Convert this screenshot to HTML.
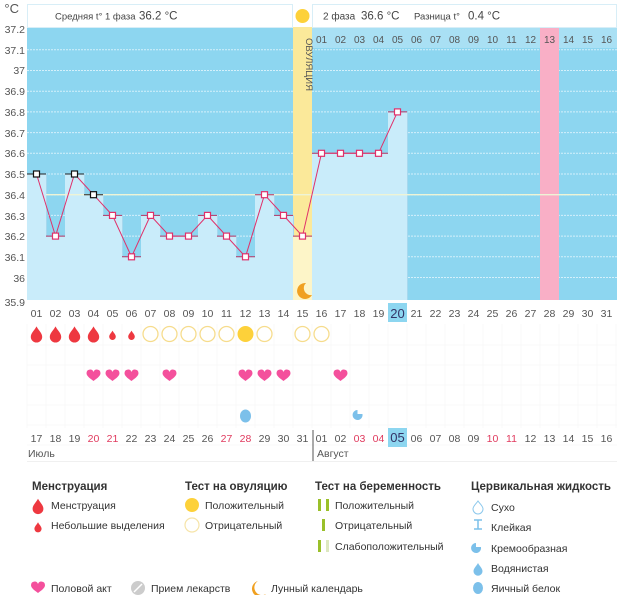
<!DOCTYPE html>
<html><head><meta charset="utf-8"><style>
html,body{margin:0;padding:0;background:#fff;}
svg{display:block;font-family:"Liberation Sans",sans-serif;}
</style></head><body>
<svg id="s" width="626" height="595" viewBox="0 0 626 595" xmlns="http://www.w3.org/2000/svg">
<rect width="626" height="595" fill="#fff"/>
<g id="bg"></g>
<!-- header -->
<rect x="27.5" y="4.5" width="265" height="23" fill="#fff" stroke="#d8eef7"/>
<rect x="312.5" y="4.5" width="304" height="23" fill="#fff" stroke="#d8eef7"/>
<circle cx="302.5" cy="16" r="7" fill="#fdd13a"/>
<text x="55" y="19.5" font-size="9.5" fill="#444">Средняя t° 1 фаза</text>
<text x="139" y="19.5" font-size="11.5" fill="#444">36.2 °C</text>
<text x="323" y="19.5" font-size="10" fill="#444">2 фаза</text>
<text x="361" y="19.5" font-size="11.5" fill="#444">36.6 °C</text>
<text x="414" y="19.5" font-size="9.5" fill="#444">Разница t°</text>
<text x="468" y="19.5" font-size="11.5" fill="#444">0.4 °C</text>
<!-- y axis -->
<g font-size="10.5" fill="#555" text-anchor="end">
<text x="19" y="13" font-size="13">°C</text>
<text x="25" y="33">37.2</text><text x="25" y="54">37.1</text><text x="25" y="74">37</text>
<text x="25" y="95">36.9</text><text x="25" y="116">36.8</text><text x="25" y="137">36.7</text>
<text x="25" y="157">36.6</text><text x="25" y="178">36.5</text><text x="25" y="199">36.4</text>
<text x="25" y="220">36.3</text><text x="25" y="240">36.2</text><text x="25" y="261">36.1</text>
<text x="25" y="282">36</text><text x="25" y="306">35.9</text>
</g>
<text transform="translate(306,38) rotate(90)" font-size="9.5" fill="#555">ОВУЛЯЦИЯ</text>
<g font-size="10" fill="#555" text-anchor="middle">
<text x="321.5" y="43">01</text><text x="340.5" y="43">02</text><text x="359.5" y="43">03</text><text x="378.5" y="43">04</text>
<text x="397.5" y="43">05</text><text x="416.5" y="43">06</text><text x="435.5" y="43">07</text><text x="454.5" y="43">08</text>
<text x="473.5" y="43">09</text><text x="492.5" y="43">10</text><text x="511.5" y="43">11</text><text x="530.5" y="43">12</text>
<text x="549.5" y="43">13</text><text x="568.5" y="43">14</text><text x="587.5" y="43">15</text><text x="606.5" y="43">16</text>
</g>
<g id="fg"></g>
<!-- day labels -->
<rect x="388" y="303" width="19" height="19" fill="#8dd6f0"/>
<g font-size="10.5" fill="#555" text-anchor="middle">
<text x="36.5" y="317">01</text><text x="55.5" y="317">02</text><text x="74.5" y="317">03</text><text x="93.5" y="317">04</text>
<text x="112.5" y="317">05</text><text x="131.5" y="317">06</text><text x="150.5" y="317">07</text><text x="169.5" y="317">08</text>
<text x="188.5" y="317">09</text><text x="207.5" y="317">10</text><text x="226.5" y="317">11</text><text x="245.5" y="317">12</text>
<text x="264.5" y="317">13</text><text x="283.5" y="317">14</text><text x="302.5" y="317">15</text><text x="321.5" y="317">16</text>
<text x="340.5" y="317">17</text><text x="359.5" y="317">18</text><text x="378.5" y="317">19</text><text x="397.5" y="318" font-size="13" fill="#336">20</text>
<text x="416.5" y="317">21</text><text x="435.5" y="317">22</text><text x="454.5" y="317">23</text><text x="473.5" y="317">24</text>
<text x="492.5" y="317">25</text><text x="511.5" y="317">26</text><text x="530.5" y="317">27</text><text x="549.5" y="317">28</text>
<text x="568.5" y="317">29</text><text x="587.5" y="317">30</text><text x="606.5" y="317">31</text>
</g>
<!-- dates -->
<rect x="388" y="428" width="19" height="19" fill="#8dd6f0"/>
<g font-size="10.5" fill="#555" text-anchor="middle">
<text x="36.5" y="442">17</text><text x="55.5" y="442">18</text><text x="74.5" y="442">19</text><text x="93.5" y="442" fill="#e03a5e">20</text>
<text x="112.5" y="442" fill="#e03a5e">21</text><text x="131.5" y="442">22</text><text x="150.5" y="442">23</text><text x="169.5" y="442">24</text>
<text x="188.5" y="442">25</text><text x="207.5" y="442">26</text><text x="226.5" y="442" fill="#e03a5e">27</text><text x="245.5" y="442" fill="#e03a5e">28</text>
<text x="264.5" y="442">29</text><text x="283.5" y="442">30</text><text x="302.5" y="442">31</text><text x="321.5" y="442">01</text>
<text x="340.5" y="442">02</text><text x="359.5" y="442" fill="#e03a5e">03</text><text x="378.5" y="442" fill="#e03a5e">04</text><text x="397.5" y="442" font-size="13" fill="#336">05</text>
<text x="416.5" y="442">06</text><text x="435.5" y="442">07</text><text x="454.5" y="442">08</text><text x="473.5" y="442">09</text>
<text x="492.5" y="442" fill="#e03a5e">10</text><text x="511.5" y="442" fill="#e03a5e">11</text><text x="530.5" y="442">12</text><text x="549.5" y="442">13</text>
<text x="568.5" y="442">14</text><text x="587.5" y="442">15</text><text x="606.5" y="442">16</text>
</g>
<line x1="313" y1="430" x2="313" y2="461" stroke="#555"/>
<text x="28" y="457" font-size="10.5" fill="#555">Июль</text>
<text x="317" y="457" font-size="10.5" fill="#555">Август</text>
<line x1="27" y1="461.5" x2="617" y2="461.5" stroke="#f0f0f0"/>
<!-- legend -->
<g font-size="10.5" fill="#333">
<text x="32" y="490" font-weight="bold" font-size="11.5">Менструация</text>
<text x="51" y="509">Менструация</text>
<text x="51" y="529">Небольшие выделения</text>
<text x="185" y="490" font-weight="bold" font-size="11.5">Тест на овуляцию</text>
<text x="205" y="509">Положительный</text>
<text x="205" y="529">Отрицательный</text>
<text x="315" y="490" font-weight="bold" font-size="11.5">Тест на беременность</text>
<text x="335" y="509">Положительный</text>
<text x="335" y="529">Отрицательный</text>
<text x="335" y="550">Слабоположительный</text>
<text x="471" y="490" font-weight="bold" font-size="11.5">Цервикальная жидкость</text>
<text x="491" y="511">Сухо</text>
<text x="491" y="531">Клейкая</text>
<text x="491" y="552">Кремообразная</text>
<text x="491" y="572">Водянистая</text>
<text x="491" y="592">Яичный белок</text>
<text x="51" y="592">Половой акт</text>
<text x="151" y="592">Прием лекарств</text>
<text x="271" y="592">Лунный календарь</text>
</g>
<script>
var NS="http://www.w3.org/2000/svg";
function el(p,t,a){var e=document.createElementNS(NS,t);for(var k in a)e.setAttribute(k,a[k]);p.appendChild(e);return e;}
var bg=document.getElementById('bg'),fg=document.getElementById('fg');
var T=[36.5,36.2,36.5,36.4,36.3,36.1,36.3,36.2,36.2,36.3,36.2,36.1,36.4,36.3,36.2,36.6,36.6,36.6,36.6,36.8];
function Y(t){return 174+(36.5-t)*207;}
function X0(i){return 27+19*(i-1);}function CX(i){return 36.5+19*(i-1);}
el(bg,'rect',{x:27,y:27,width:590,height:273,fill:'#8dd6f0'});
el(bg,'rect',{x:312,y:28,width:305,height:20,fill:'#a9e0f4'});
for(var k=-6;k<=5;k++){var y=174+k*20.7;el(bg,'line',{x1:27,x2:617,y1:y,y2:y,stroke:'#d4f0fb','stroke-width':1,'stroke-dasharray':'2,1'});}
el(bg,'rect',{x:540,y:27,width:19,height:273,fill:'#f9afc6'});
el(bg,'rect',{x:293,y:27,width:19,height:273,fill:'#fbe99a'});
for(var i=1;i<=20;i++){var y=Y(T[i-1]);
 el(bg,'rect',{x:X0(i),y:y,width:19,height:300-y,fill:i==15?'#fdf5c8':'#c9ecfa'});
 if(i!=15)el(bg,'line',{x1:X0(i)+19.5,x2:X0(i)+19.5,y1:y,y2:300,stroke:'#a6d8ee'});}
el(bg,'line',{x1:46,x2:590,y1:194.7,y2:194.7,stroke:'#eef4d6','stroke-width':1.3});
el(bg,'path',{d:'M306,283 a8,8 0 1 0 6,12 a7,7 0 0 1 -6,-12z',fill:'#f0a020'});
var pts=T.map(function(t,i){return CX(i+1)+','+Y(t)}).join(' ');
for(var i=1;i<=20;i++){var y=Y(T[i-1]);el(fg,'line',{x1:X0(i),x2:X0(i)+19,y1:y,y2:y,stroke:(i==1||i==3||i==4)?'#222':'#b03060','stroke-width':1});}
el(fg,'polyline',{points:pts,fill:'none',stroke:'#e0306a','stroke-width':1});
for(var i=1;i<=20;i++){var y=Y(T[i-1]);el(fg,'rect',{x:CX(i)-3,y:y-3,width:6,height:6,fill:'#fff',stroke:(i==1||i==3||i==4)?'#111':'#e0306a','stroke-width':1.2});}
for(var i=0;i<=31;i++)el(fg,'line',{x1:27+19*i,x2:27+19*i,y1:324,y2:428,stroke:'#f8f8f8'});
for(var r=0;r<6;r++)el(fg,'line',{x1:27,x2:617,y1:345+r*20,y2:345+r*20,stroke:'#f8f8f8'});
function drop(x,y,s,c){el(fg,'path',{d:'M'+x+','+(y-8*s)+' C'+(x+2*s)+','+(y-4*s)+' '+(x+6*s)+','+(y-1*s)+' '+(x+6*s)+','+(y+3*s)+' A'+(6*s)+','+(6*s)+' 0 1 1 '+(x-6*s)+','+(y+3*s)+' C'+(x-6*s)+','+(y-1*s)+' '+(x-2*s)+','+(y-4*s)+' '+x+','+(y-8*s)+'z',fill:c});}
function heart(x,y,c){el(fg,'path',{d:'M'+x+','+(y+6)+' C'+(x-4)+','+(y+3)+' '+(x-7)+','+(y+1)+' '+(x-7)+','+(y-2)+' A3.6,3.6 0 0 1 '+x+','+(y-3)+' A3.6,3.6 0 0 1 '+(x+7)+','+(y-2)+' C'+(x+7)+','+(y+1)+' '+(x+4)+','+(y+3)+' '+x+','+(y+6)+'z',fill:c});}
[1,2,3,4].forEach(function(d){drop(CX(d),334,0.95,'#ee3840');});
[5,6].forEach(function(d){drop(CX(d),335,0.55,'#ee3840');});
[7,8,9,10,11,13,15,16].forEach(function(d){el(fg,'circle',{cx:CX(d),cy:334,r:7.5,fill:'#fff',stroke:'#f6dc8c','stroke-width':1.3});});
el(fg,'circle',{cx:CX(12),cy:334,r:8,fill:'#fdd13a'});
[4,5,6,8,12,13,14,17].forEach(function(d){heart(CX(d),375,'#f4509c');});
el(fg,'ellipse',{cx:CX(12),cy:416,rx:5.5,ry:6.5,fill:'#7cc0ea'});
el(fg,'path',{d:'M'+(CX(18)-2)+',410 a5,5 0 1 0 5,4 l-5,0z',fill:'#7cc0ea'});
drop(38,506,0.9,'#ee3840');drop(38,527,0.6,'#ee3840');
el(fg,'circle',{cx:192,cy:505,r:7,fill:'#fdd13a'});
el(fg,'circle',{cx:192,cy:525,r:7,fill:'#fff',stroke:'#f6e4a8','stroke-width':1.2});
el(fg,'rect',{x:318,y:499,width:3,height:12,fill:'#9ac02a'});el(fg,'rect',{x:326,y:499,width:3,height:12,fill:'#9ac02a'});
el(fg,'rect',{x:322,y:519,width:3,height:12,fill:'#9ac02a'});
el(fg,'rect',{x:318,y:540,width:3,height:12,fill:'#9ac02a'});el(fg,'rect',{x:326,y:540,width:3,height:12,fill:'#dde8c0'});
el(fg,'path',{d:'M478,501 C480,504 483,506 483,509 a5,5 0 1 1 -10,0 C473,506 476,504 478,501z',fill:'#fff',stroke:'#8cc8ec'});
el(fg,'path',{d:'M474,520 h8 M478,520 v9 M474,529 h8',stroke:'#7cc0ea','stroke-width':1.5});
el(fg,'path',{d:'M476,543 a5,5 0 1 0 5,4 l-5,0z',fill:'#7cc0ea'});
drop(478,569,0.75,'#7cc0ea');
el(fg,'ellipse',{cx:478,cy:588,rx:5,ry:6,fill:'#7cc0ea'});
heart(38,587,'#f4509c');
el(fg,'circle',{cx:138,cy:588,r:7,fill:'#ccc'});el(fg,'line',{x1:134,y1:592,x2:142,y2:584,stroke:'#fff','stroke-width':1.5});
el(fg,'path',{d:'M258,581 a8,8 0 1 0 8,13 a7,7 0 0 1 -8,-13z',fill:'#f0a020'});
</script>
</svg>
</body></html>
